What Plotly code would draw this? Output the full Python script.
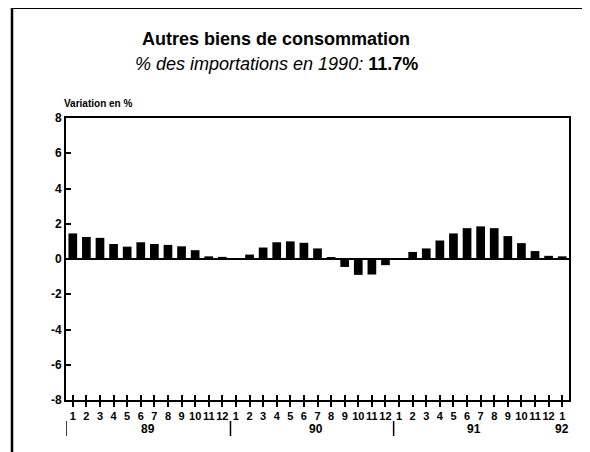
import plotly.graph_objects as go

# ---- data ----
months = ["1","2","3","4","5","6","7","8","9","10","11","12",
          "1","2","3","4","5","6","7","8","9","10","11","12",
          "1","2","3","4","5","6","7","8","9","10","11","12",
          "1"]
values = [1.45, 1.25, 1.2, 0.85, 0.7, 0.95, 0.85, 0.8, 0.72, 0.5, 0.15, 0.12,
          -0.05, 0.25, 0.65, 0.95, 1.0, 0.92, 0.6, 0.1, -0.45, -0.9, -0.88, -0.35,
          0.0, 0.4, 0.6, 1.05, 1.45, 1.75, 1.85, 1.75, 1.3, 0.9, 0.45, 0.18,
          0.15]
year_labels = ["89", "90", "91", "92"]
year_label_pos = [5.5, 17.9, 29.5, 36.0]
year_sep_pos = [-0.5, 11.6, 23.6, 35.6]
y_ticks = [-8, -6, -4, -2, 0, 2, 4, 6, 8]

x = list(range(len(values)))

# ---- geometry (page is offset by 8px body margin) ----
OFF = 8
W, H = 590 - OFF, 452 - OFF
L, R, T, B = 66 - OFF, 569 - OFF, 118 - OFF, 400 - OFF
def px(xs):
    return (xs - OFF - L) / (R - L)
def py(ys):
    return (B - (ys - OFF)) / (B - T)

FONT = "Liberation Sans, Arial, sans-serif"

fig = go.Figure()
fig.add_trace(go.Bar(x=x, y=values, marker=dict(color="black", line=dict(width=0)),
                     showlegend=False, hoverinfo="skip"))
fig.add_trace(go.Scatter(x=[x[0]], y=[0], xaxis="x2", mode="markers",
                         marker=dict(opacity=0), showlegend=False, hoverinfo="skip"))

fig.update_layout(
    width=W, height=H,
    margin=dict(l=L, r=W - R, t=T, b=H - B),
    paper_bgcolor="white", plot_bgcolor="white",
    bargap=0.36,
    xaxis=dict(range=[-0.5, 36.5], tickmode="array", tickvals=x, ticktext=months,
               tickangle=0,
               ticks="outside", ticklen=5, tickwidth=1.5, tickcolor="black",
               showline=True, linecolor="black", linewidth=2, mirror=True,
               showgrid=False, zeroline=False,
               tickfont=dict(family=FONT, size=11, color="black", weight="bold")),
    xaxis2=dict(overlaying="x", matches="x", anchor="y", side="bottom",
                tickmode="array", tickvals=x, ticks="inside", ticklen=5,
                tickwidth=1.5, tickcolor="black", showticklabels=False,
                showline=False, showgrid=False, zeroline=False),
    yaxis=dict(range=[-8, 8], tickmode="array", tickvals=y_ticks,
               ticktext=[str(v) for v in y_ticks],
               ticks="inside", ticklen=5, tickwidth=1.5, tickcolor="black",
               showline=True, linecolor="black", linewidth=2, mirror=True,
               showgrid=False, zeroline=True, zerolinecolor="black", zerolinewidth=2,
               tickfont=dict(family=FONT, size=12, color="black", weight="bold")),
)

ann = []
ann.append(dict(text="<b>Autres biens de consommation</b>", x=px(276), y=py(39),
                xref="paper", yref="paper", showarrow=False,
                xanchor="center", yanchor="middle",
                font=dict(family=FONT, size=18, color="black")))
ann.append(dict(text="<i>% des importations en 1990:</i> <b>11.7%</b>", x=px(276), y=py(64),
                xref="paper", yref="paper", showarrow=False,
                xanchor="center", yanchor="middle",
                font=dict(family=FONT, size=18, color="black")))
ann.append(dict(text="<b>Variation en %</b>", x=px(62), y=py(103),
                xanchor="left", yanchor="middle",
                xref="paper", yref="paper", showarrow=False,
                font=dict(family=FONT, size=10, color="black")))
for lab, pos in zip(year_labels, year_label_pos):
    ann.append(dict(text="<b>" + lab + "</b>", x=pos, y=py(429), xref="x", yref="paper",
                    xanchor="center", yanchor="middle",
                    showarrow=False, font=dict(family=FONT, size=12, color="black")))
fig.update_layout(annotations=ann)

shapes = []
for pos in year_sep_pos[:3]:
    shapes.append(dict(type="line", xref="x", yref="paper", x0=pos, x1=pos,
                       y0=py(421), y1=py(436), line=dict(color="black", width=1.5)))
# outer frame
shapes.append(dict(type="line", xref="paper", yref="paper", x0=px(12), x1=px(12),
                   y0=py(8), y1=py(452), line=dict(color="black", width=2.5)))
shapes.append(dict(type="line", xref="paper", yref="paper", x0=px(12), x1=px(586),
                   y0=py(8), y1=py(8), line=dict(color="black", width=2)))
shapes.append(dict(type="line", xref="paper", yref="paper", x0=px(586), x1=px(586),
                   y0=py(8), y1=py(452), line=dict(color="black", width=2)))
fig.update_layout(shapes=shapes)

fig.write_html("out.html")
